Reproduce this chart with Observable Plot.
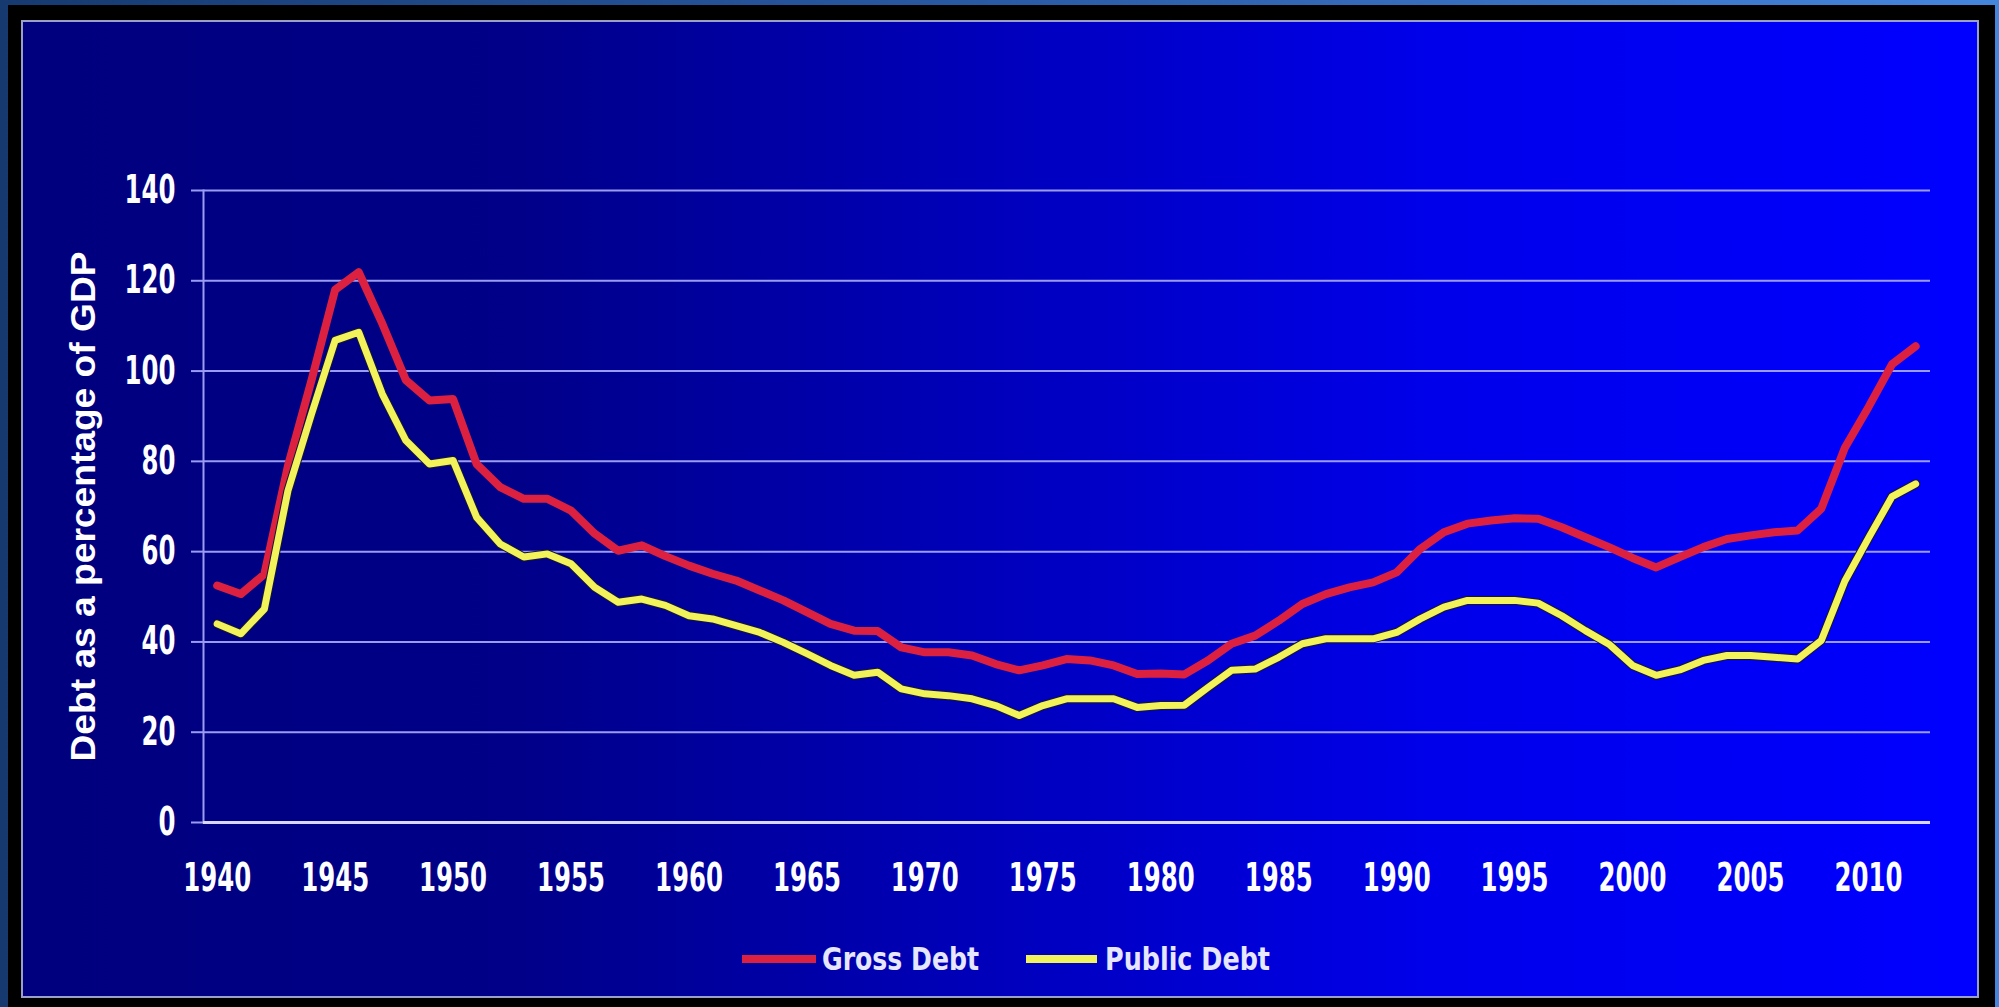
<!DOCTYPE html>
<html><head><meta charset="utf-8">
<script src="https://cdn.jsdelivr.net/npm/d3@7"></script>
<script src="https://cdn.jsdelivr.net/npm/@observablehq/plot@0.6"></script>
<style>
html,body{margin:0;padding:0;width:1999px;height:1007px;overflow:hidden;}
body{position:relative;background:linear-gradient(to right,#163a70 0%,#2a5aa5 50%,#4586dd 100%);}
#black{position:absolute;left:8px;top:5px;width:1987px;height:1002px;background:#000;}
#panel{position:absolute;left:21px;top:20px;width:1954px;height:974px;border:2px solid #9aa0c8;
  background:linear-gradient(to right,#00007e 0%,#000088 25%,#0000bc 50%,#0000ea 72%,#0000ff 100%);}
#chart{position:absolute;left:0;top:0;}
#legend{position:absolute;left:0;top:0;width:1999px;height:1007px;pointer-events:none;
  font-family:"DejaVu Sans",sans-serif;font-weight:bold;font-size:32px;color:#e6e6ff;}
.sw{position:absolute;height:8px;top:955px;}
.lt{position:absolute;top:938px;line-height:42px;white-space:nowrap;transform-origin:0 50%;display:inline-block;}
</style></head>
<body>
<div id="black"></div>
<div id="panel"></div>
<div id="chart"></div>
<div id="legend"></div>
<script>
const years = [1940,1941,1942,1943,1944,1945,1946,1947,1948,1949,
  1950,1951,1952,1953,1954,1955,1956,1957,1958,1959,
  1960,1961,1962,1963,1964,1965,1966,1967,1968,1969,
  1970,1971,1972,1973,1974,1975,1976,1977,1978,1979,
  1980,1981,1982,1983,1984,1985,1986,1987,1988,1989,
  1990,1991,1992,1993,1994,1995,1996,1997,1998,1999,
  2000,2001,2002,2003,2004,2005,2006,2007,2008,2009,
  2010,2011,2012];
const grossDebt = [52.5,50.6,55,79,98,118,121.9,110.5,98,93.5,
  93.8,79.4,74.3,71.7,71.7,69.1,64,60.2,61.4,59,
  56.9,55.1,53.6,51.4,49.2,46.6,44,42.5,42.4,38.8,
  37.7,37.7,37,35.1,33.7,34.8,36.2,35.9,34.8,32.9,
  33,32.8,35.9,39.6,41.4,44.7,48.4,50.6,52.1,53.2,
  55.4,60.6,64.3,66.2,66.9,67.4,67.3,65.4,63.2,61,
  58.6,56.5,58.8,61,62.8,63.6,64.3,64.7,69.5,83,
  92,101.5,105.5];
const publicDebt = [44,41.8,47.3,73.5,90.5,106.8,108.6,94.9,84.6,79.4,
  80.2,67.6,61.7,58.8,59.5,57.3,52.1,48.8,49.5,48.1,
  45.8,45.1,43.6,42.1,39.9,37.4,34.8,32.6,33.3,29.6,
  28.5,28.1,27.4,25.9,23.7,25.9,27.4,27.4,27.4,25.5,
  25.9,26,29.9,33.7,34,36.6,39.6,40.7,40.7,40.7,
  42.1,45.1,47.7,49.2,49.2,49.2,48.6,45.8,42.5,39.5,
  34.8,32.6,33.8,35.9,37,37,36.6,36.2,40.3,53.5,
  63,72.2,75];
const yTicks = [0,20,40,60,80,100,120,140];
const xTicks = [1940,1945,1950,1955,1960,1965,1970,1975,1980,1985,1990,1995,2000,2005,2010];
const seriesNames = ["Gross Debt","Public Debt"];
const seriesColors = ["#dc2040","#f2f25a"];
const yTitle = "Debt as a percentage of GDP";

const rows = years.map((y,i)=>({year:y, gross:grossDebt[i], pub:publicDebt[i]}));

const gridColor = "#9a9cf2";
const chart = Plot.plot({
  width: 1999, height: 910,
  marginLeft: 203, marginRight: 69, marginTop: 190, marginBottom: 88,
  style: {background:"transparent", color:"white", fontFamily:'"DejaVu Sans",sans-serif', fontWeight:"bold", fontSize:"39px"},
  x: {type:"linear", domain:[1939.42, 2012.63]},
  y: {domain:[0,140]},
  marks: [
    Plot.gridY(yTicks, {stroke: gridColor, strokeOpacity:1, strokeWidth:2}),
    Plot.axisY(yTicks, {tickSize:12, tickPadding:16, stroke:gridColor, strokeWidth:2, strokeOpacity:1, label:null, fill:"white"}),
    Plot.frame({anchor:"left", stroke:gridColor, strokeWidth:2}),
    Plot.ruleY([0], {stroke:"#d6d6ff", strokeWidth:3}),
    Plot.axisX(xTicks, {tickSize:0, tickPadding:41, tickFormat:d=>String(d), label:null, fill:"white"}),
    Plot.text([yTitle], {text:d=>d, frameAnchor:"left", textAnchor:"middle", dx:-120, rotate:-90, fontSize:35, fontWeight:"bold", fill:"white", fontFamily:'"Liberation Sans",Arial,sans-serif'}),
    Plot.line(rows, {x:"year", y:"gross", stroke:seriesColors[0], strokeWidth:8, strokeLinejoin:"round", strokeLinecap:"round"}),
    Plot.line(rows, {x:"year", y:"pub", stroke:"#15153a", strokeWidth:9, strokeLinejoin:"round", strokeLinecap:"round"}),
    Plot.line(rows, {x:"year", y:"pub", stroke:seriesColors[1], strokeWidth:7, strokeLinejoin:"round", strokeLinecap:"round"})
  ]
});
document.getElementById("chart").append(chart);

// condense the tick labels (narrow bold face in the original)
chart.querySelectorAll('g[aria-label$="tick label"] text').forEach(t=>{
  const n = t.textContent.length;
  t.setAttribute("textLength", n*17);
  t.setAttribute("lengthAdjust","spacingAndGlyphs");
});
chart.querySelectorAll('g[aria-label="text"] text').forEach(t=>{
  t.setAttribute("textLength", 510);
  t.setAttribute("lengthAdjust","spacingAndGlyphs");
});

const legend = document.getElementById("legend");
const swX = [742,1026], swW = [74,71], txX = [822,1105], txW = [157,165];
seriesNames.forEach((n,i)=>{
  const sw = document.createElement("div"); sw.className="sw";
  sw.style.left = swX[i]+"px"; sw.style.width = swW[i]+"px"; sw.style.background = seriesColors[i];
  const t = document.createElement("span"); t.className="lt"; t.textContent = n;
  t.style.left = txX[i]+"px";
  legend.append(sw,t);
  const w = t.getBoundingClientRect().width;
  t.style.transform = `scaleX(${txW[i]/w})`;
});
</script>
</body></html>
